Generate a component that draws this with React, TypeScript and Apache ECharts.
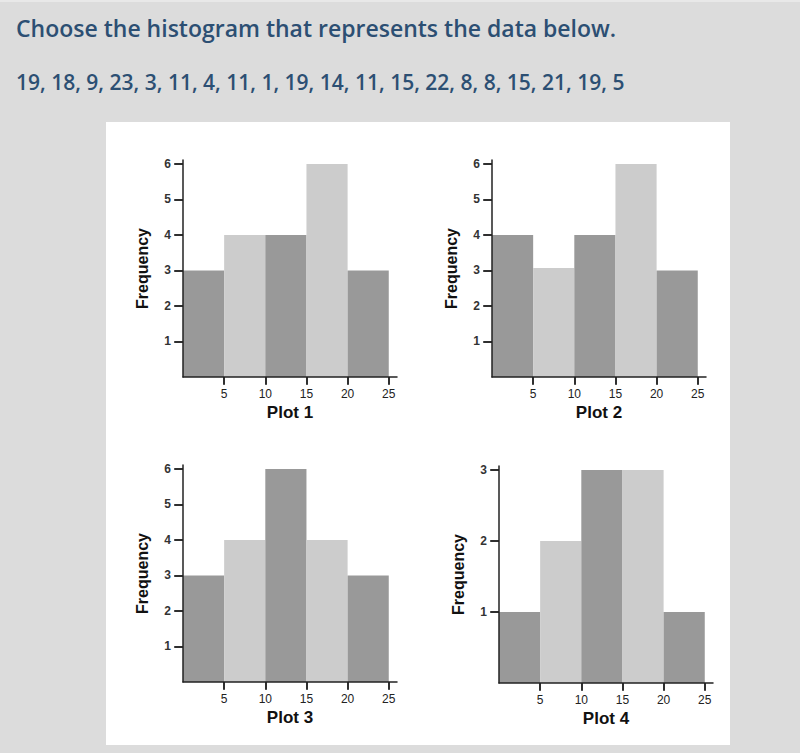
import React, { useEffect, useRef } from "react";
import * as echarts from "echarts";

const titleText = "Choose the histogram that represents the data below.";
const dataText = "19, 18, 9, 23, 3, 11, 4, 11, 1, 19, 14, 11, 15, 22, 8, 8, 15, 21, 19, 5";

const binEdges = [0, 5, 10, 15, 20, 25];
const plot1 = [3, 4, 4, 6, 3];
const plot2 = [4, 3.07, 4, 6, 3];
const plot3 = [3, 4, 6, 4, 3];
const plot4 = [1, 2, 3, 3, 1];
const plotNames = ["Plot 1", "Plot 2", "Plot 3", "Plot 4"];
const xTickValues = [5, 10, 15, 20, 25];
const yTicksSix = [1, 2, 3, 4, 5, 6];
const yTicksThree = [1, 2, 3];

const DARK = "#999999";
const LIGHT = "#cccccc";
const AXIS = "#222222";

export default function App() {
  const ref = useRef<HTMLDivElement>(null);

  useEffect(() => {
    if (!ref.current) return;
    const chart = echarts.init(ref.current, null, { renderer: "svg" });

    const plots = [
      { values: plot1, yTicks: yTicksSix, yMax: 6.11, left: 183, top: 160 },
      { values: plot2, yTicks: yTicksSix, yMax: 6.11, left: 492, top: 160 },
      { values: plot3, yTicks: yTicksSix, yMax: 6.11, left: 183, top: 465 },
      { values: plot4, yTicks: yTicksThree, yMax: 3.056, left: 499, top: 466 },
    ];
    const W = 214;
    const H = 217;

    const grids: any[] = [];
    const xAxes: any[] = [];
    const yAxes: any[] = [];
    const series: any[] = [];

    plots.forEach((p, i) => {
      grids.push({ left: p.left, top: p.top, width: W, height: H });
      xAxes.push({
        type: "value",
        gridIndex: i,
        min: 0,
        max: 26,
        z: 10,
        splitLine: { show: false },
        axisLine: { show: true, lineStyle: { color: AXIS, width: 1.5 } },
        axisTick: {
          show: true,
          inside: false,
          length: 8,
          customValues: xTickValues,
          lineStyle: { color: AXIS, width: 1.5 },
        },
        axisLabel: {
          customValues: xTickValues,
          margin: 11,
          fontSize: 12,
          color: "#222",
          fontFamily: "Liberation Sans, Arial, sans-serif",
        },
        name: plotNames[i],
        nameLocation: "middle",
        nameGap: 27,
        nameTextStyle: {
          fontSize: 17,
          fontWeight: "bold",
          color: "#111",
          fontFamily: "Liberation Sans, Arial, sans-serif",
        },
      });
      xAxes.push({
        type: "value",
        gridIndex: i,
        min: 0,
        max: 26,
        z: 10,
        splitLine: { show: false },
        axisLine: { show: false },
        axisLabel: { show: false },
        axisTick: {
          show: true,
          inside: true,
          length: 7,
          customValues: xTickValues,
          lineStyle: { color: AXIS, width: 1.5 },
        },
      });
      yAxes.push({
        type: "value",
        gridIndex: i,
        min: 0,
        max: p.yMax,
        z: 10,
        splitLine: { show: false },
        axisLine: { show: true, lineStyle: { color: AXIS, width: 1.5 } },
        axisTick: {
          show: true,
          inside: false,
          length: 8,
          customValues: p.yTicks,
          lineStyle: { color: AXIS, width: 1.5 },
        },
        axisLabel: {
          customValues: p.yTicks,
          margin: 12,
          fontSize: 12,
          fontWeight: "bold",
          color: "#333",
          fontFamily: "Liberation Sans, Arial, sans-serif",
        },
        name: "Frequency",
        nameLocation: "middle",
        nameGap: 33,
        nameRotate: 90,
        nameTextStyle: {
          fontSize: 16,
          fontWeight: "bold",
          color: "#111",
          fontFamily: "Liberation Sans, Arial, sans-serif",
        },
      });
      yAxes.push({
        type: "value",
        gridIndex: i,
        min: 0,
        max: p.yMax,
        z: 10,
        splitLine: { show: false },
        axisLine: { show: false },
        axisLabel: { show: false },
        axisTick: {
          show: true,
          inside: true,
          length: 9,
          customValues: p.yTicks,
          lineStyle: { color: AXIS, width: 1.5 },
        },
      });

      const data = p.values.map((v, j) => [binEdges[j], binEdges[j + 1], v]);
      series.push({
        type: "custom",
        xAxisIndex: 2 * i,
        yAxisIndex: 2 * i,
        z: 1,
        data,
        renderItem: (params: any, api: any) => {
          const x0 = api.value(0);
          const x1 = api.value(1);
          const y = api.value(2);
          const a = api.coord([x0, y]);
          const b = api.coord([x1, 0]);
          return {
            type: "rect",
            shape: { x: a[0], y: a[1], width: b[0] - a[0], height: b[1] - a[1] },
            style: { fill: params.dataIndex % 2 === 0 ? DARK : LIGHT },
          };
        },
      });
    });

    chart.setOption({
      animation: false,
      backgroundColor: "#dcdcdc",
      graphic: [
        { type: "rect", shape: { x: 0, y: 0, width: 800, height: 2 }, style: { fill: "#e8e8e8" }, z: -10 },
        { type: "rect", shape: { x: 106, y: 122, width: 624, height: 623 }, style: { fill: "#ffffff" }, z: -10 },
        {
          type: "text",
          x: 16,
          y: 28,
          style: {
            text: titleText,
            fill: "#2c4f73",
            font: "600 23px 'Open Sans', sans-serif",
            verticalAlign: "middle",
          },
        },
        {
          type: "text",
          x: 16,
          y: 82,
          style: {
            text: dataText,
            fill: "#2c4f73",
            font: "600 21px 'Open Sans', sans-serif",
            verticalAlign: "middle",
          },
        },
      ],
      grid: grids,
      xAxis: xAxes,
      yAxis: yAxes,
      series,
    });

    return () => chart.dispose();
  }, []);

  return (
    <div
      ref={ref}
      style={{ position: "absolute", left: 0, top: 0, width: 800, height: 753 }}
    />
  );
}
